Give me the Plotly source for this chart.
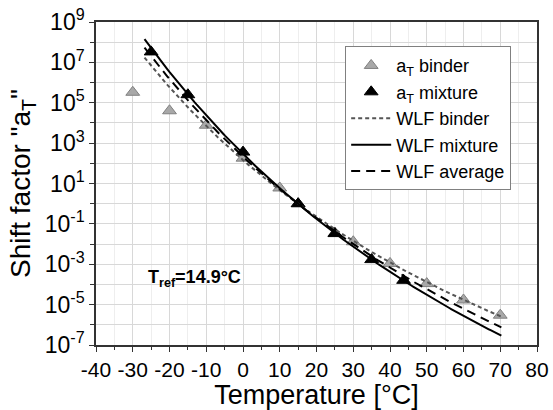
import numpy as np
import plotly.graph_objects as go

# Measured shift factors
T_binder = [-30, -20, -10, 0, 10, 15, 25, 30, 40, 50, 60, 70]
aT_binder = [3.3e5, 4.0e4, 7.7e3, 1.8e2, 6.0, 1.0, 3.5e-2, 1.3e-2, 1.1e-3, 1.1e-4, 1.7e-5, 3.0e-6]

T_mixture = [-25, -15, 0, 15, 25, 35, 43.7]
aT_mixture = [3.3e7, 2.5e5, 3.6e2, 1.0, 3.3e-2, 1.7e-3, 1.6e-4]

# WLF fits: log10(aT) = -C1 (T - Tref) / (C2 + T - Tref)
T_REF = 14.9
WLF_PARAMS = {
    "binder": (23.45, 176.8),
    "mixture": (28.93, 189.7),
    "average": (26.61, 185.3),
}
T_fit = np.linspace(-26.8, 70.3, 200)

# Axis ticks
x_ticks = [-40, -30, -20, -10, 0, 10, 20, 30, 40, 50, 60, 70, 80]
x_ticktext = [str(v) for v in x_ticks]
y_exponents = [-7, -5, -3, -1, 1, 3, 5, 7, 9]
y_ticks = [10.0 ** e for e in y_exponents]
y_ticktext = [f"10<sup>{e}</sup>" for e in y_exponents]


def wlf(c1, c2, t):
    d = t - T_REF
    return 10 ** (-c1 * d / (c2 + d))


FONT = "Liberation Sans, Arial, sans-serif"

fig = go.Figure()

fig.add_trace(go.Scatter(
    x=T_binder, y=aT_binder, mode="markers", name="a<sub>T</sub> binder",
    marker=dict(symbol="triangle-up", size=12, color="#a8a8a8",
                line=dict(color="#808080", width=1)),
))
fig.add_trace(go.Scatter(
    x=T_mixture, y=aT_mixture, mode="markers", name="a<sub>T</sub> mixture",
    marker=dict(symbol="triangle-up", size=12, color="#000000",
                line=dict(color="#000000", width=1)),
))
fig.add_trace(go.Scatter(
    x=T_fit, y=wlf(*WLF_PARAMS["binder"], T_fit), mode="lines", name="WLF binder",
    line=dict(color="#555555", width=2, dash="4px,3px"),
))
fig.add_trace(go.Scatter(
    x=T_fit, y=wlf(*WLF_PARAMS["mixture"], T_fit), mode="lines", name="WLF mixture",
    line=dict(color="#000000", width=2),
))
fig.add_trace(go.Scatter(
    x=T_fit, y=wlf(*WLF_PARAMS["average"], T_fit), mode="lines", name="WLF average",
    line=dict(color="#000000", width=2, dash="9px,6px"),
))

fig.add_annotation(
    x=-26.5, y=-3.69, xref="x", yref="y", xanchor="left", yanchor="middle",
    text="<b>T<sub>ref</sub>=14.9°C</b>", showarrow=False,
    font=dict(family=FONT, size=18, color="#000000"),
)

fig.update_layout(
    width=553, height=410,
    margin=dict(l=96, r=16, t=22, b=65),
    paper_bgcolor="white", plot_bgcolor="white",
    font=dict(family=FONT, color="#000000"),
    showlegend=True,
    legend=dict(
        x=0.565, y=0.925, xanchor="left", yanchor="top",
        bgcolor="white", bordercolor="#808080", borderwidth=1,
        font=dict(family=FONT, size=18, color="#000000"),
        tracegroupgap=0, itemwidth=40,
    ),
    xaxis=dict(
        range=[-40, 80], tickmode="array", tickvals=x_ticks, ticktext=x_ticktext,
        showline=True, linecolor="#333333", linewidth=1.5, mirror=True,
        ticks="outside", ticklen=5, tickcolor="#333333",
        showgrid=True, gridcolor="#d8d8d8", gridwidth=1, zeroline=False,
        minor=dict(dtick=5, showgrid=True, gridcolor="#eeeeee",
                   ticks="outside", ticklen=3, tickcolor="#333333"),
        tickfont=dict(family=FONT, size=21),
        automargin=False,
        title=dict(text="Temperature [°C]", font=dict(family=FONT, size=27), standoff=5),
    ),
    yaxis=dict(
        type="log", range=[-7, 9], tickmode="array", tickvals=y_ticks, ticktext=y_ticktext,
        showline=True, linecolor="#333333", linewidth=1.5, mirror=True,
        ticks="outside", ticklen=5, tickcolor="#333333",
        showgrid=True, gridcolor="#d8d8d8", gridwidth=1, zeroline=False,
        minor=dict(dtick=1, showgrid=True, gridcolor="#d8d8d8",
                   ticks="outside", ticklen=4, tickcolor="#333333"),
        tickfont=dict(family=FONT, size=23),
        automargin=False,
        title=dict(text='Shift factor "a<sub>T</sub>"', font=dict(family=FONT, size=28), standoff=6),
    ),
)

fig.write_html("out.html")
